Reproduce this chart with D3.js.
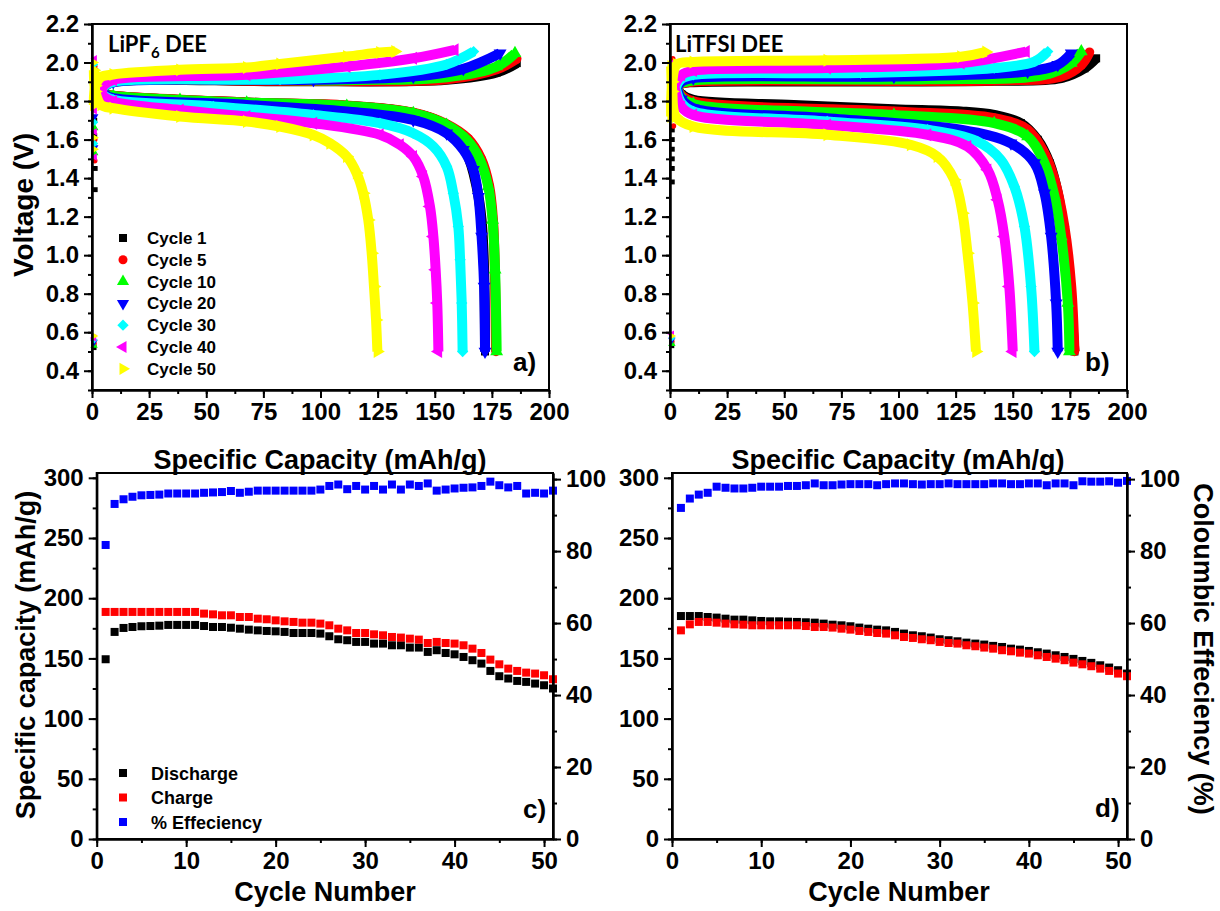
<!DOCTYPE html>
<html lang="en">
<head>
<meta charset="UTF-8">
<script src="https://d3js.org/d3.v7.min.js"></script>
<style>
    body { margin: 0; background: #fff; }
    svg text { font-family: "Liberation Sans", Arial, sans-serif; font-weight: bold; fill: #000; }
    .axis .tick text { font-size: 24px; }
    .label-cap { font-family: Lato, "Open Sans", sans-serif !important; }
</style>
</head>
<body>
<svg id="fig" width="1220" height="911"></svg>
<script>
// ---- voltage profiles (capacity mAh/g, voltage V), one list per cycle ----
var cycles = ["Cycle 1", "Cycle 5", "Cycle 10", "Cycle 20", "Cycle 30", "Cycle 40", "Cycle 50"];

var chargeA = [
    [[3.5,1.85],[5,1.875],[9.3,1.900],[82.3,1.903],[155.2,1.910],[177.1,1.948],[185.9,1.997]],
    [[3.5,1.85],[5,1.875],[9.3,1.900],[82.3,1.905],[155.2,1.913],[177.1,1.965],[185.9,2.019]],
    [[3.5,1.85],[5,1.874],[9.3,1.898],[111.5,1.908],[155.2,1.924],[177.1,1.979],[185.1,2.048]],
    [[3.5,1.85],[5,1.874],[9.3,1.898],[96.9,1.910],[140.6,1.927],[162.5,1.967],[178.6,2.048]],
    [[3.5,1.85],[5,1.875],[9.3,1.900],[82.3,1.912],[126,1.936],[155.2,1.990],[167,2.057]],
    [[3.5,1.85],[5,1.880],[9.3,1.910],[67.7,1.936],[111.5,1.979],[140.6,2.022],[158.8,2.066]],
    [[0.8,1.78],[1.5,1.88],[4,1.925],[9.3,1.938],[38.5,1.962],[67.7,1.974],[82.3,1.993],[111.5,2.031],[126,2.052],[132.6,2.057]]
];
var dischargeA = [
    [[3.5,1.85],[5,1.838],[9.3,1.827],[67.7,1.792],[111.5,1.775],[140.6,1.737],[155.2,1.670],[164,1.529],[168.3,1.356],[170.5,1.183],[171.6,0.924],[172,0.5]],
    [[3.5,1.85],[5,1.838],[9.3,1.828],[67.7,1.793],[111.5,1.777],[140.6,1.740],[155.2,1.680],[164.5,1.605],[170.3,1.500],[173.8,1.360],[175.5,1.180],[176.3,0.920],[176.8,0.5]],
    [[3.5,1.85],[5,1.838],[9.3,1.827],[38.5,1.806],[67.7,1.792],[111.5,1.775],[140.6,1.737],[155.2,1.676],[164.0,1.599],[169.8,1.495],[173.4,1.356],[175.3,1.183],[176.4,0.924],[177.1,0.5]],
    [[3.5,1.85],[5,1.835],[9.3,1.815],[67.7,1.780],[111.5,1.746],[140.6,1.702],[155.2,1.633],[162.5,1.547],[166.9,1.443],[169.1,1.304],[170.5,1.097],[171.6,0.837],[172.0,0.5]],
    [[3.5,1.85],[5,1.830],[9.3,1.806],[53.1,1.772],[96.9,1.728],[126.0,1.685],[140.6,1.633],[149.4,1.564],[155.2,1.460],[158.1,1.322],[160.3,1.149],[161.1,0.976],[161.8,0.751],[162.2,0.5]],
    [[3.5,1.85],[5,1.825],[9.3,1.798],[38.5,1.754],[67.7,1.720],[96.9,1.685],[126.0,1.625],[134.8,1.573],[140.6,1.512],[145.0,1.408],[147.9,1.253],[149.4,1.097],[150.4,0.924],[151.1,0.751],[151.6,0.5]],
    [[0.8,1.96],[1.5,1.85],[4,1.78],[9.3,1.763],[38.5,1.720],[67.7,1.694],[82.3,1.668],[96.9,1.624],[104.2,1.581],[111.5,1.512],[115.8,1.426],[118.7,1.322],[120.9,1.183],[122.4,1.010],[123.4,0.837],[124.3,0.664],[124.9,0.5]]
];
var restA = [
    [[1.2,1.70],[1.2,1.62],[1.4,1.45],[1.4,1.34],[0.9,0.52]],
    [[1.2,1.98],[1.2,1.87],[1.2,1.60],[1.2,1.49],[0.9,0.54]],
    [[1.2,1.93],[1.2,1.78],[1.2,1.66],[1.2,1.53],[0.9,0.53]],
    [[1.2,1.96],[1.2,1.84],[1.2,1.72],[1.2,1.56],[0.9,0.55]],
    [[1.2,1.99],[1.2,1.81],[1.2,1.69],[1.2,1.58],[0.9,0.56]],
    [[1.2,2.02],[1.2,1.75],[1.2,1.64],[1.2,1.51],[0.9,0.57]],
    [[1.2,2.00],[1.2,1.61],[1.2,1.55],[0.9,0.58]]
];

var chargeB = [
    [[3,1.87],[5,1.89],[10.2,1.898],[68.8,1.901],[141.9,1.905],[171.2,1.919],[181.4,1.970],[186.5,2.022]],
    [[3,1.87],[5,1.89],[10.2,1.901],[141.9,1.907],[171.2,1.927],[180.0,1.988],[183.6,2.054]],
    [[3,1.87],[5,1.893],[10.2,1.907],[112.7,1.913],[163.9,1.936],[175.6,1.997],[180.0,2.057]],
    [[3,1.87],[5,1.90],[10.2,1.919],[98.0,1.927],[156.5,1.953],[169.7,1.988],[175.6,2.048]],
    [[2.5,1.87],[5,1.915],[10.2,1.936],[83.4,1.945],[141.9,1.971],[159.5,2.005],[165.3,2.057]],
    [[2,1.88],[5,1.935],[10.2,1.958],[68.8,1.971],[127.3,1.997],[155.8,2.057]],
    [[0.5,1.72],[1,1.90],[3,1.99],[10.2,2.003],[68.8,2.012],[127.3,2.030],[138.3,2.055]]
];
var dischargeB = [
    [[3,1.87],[5,1.835],[10.2,1.806],[54.1,1.780],[98.0,1.758],[127.3,1.746],[141.9,1.728],[153.6,1.685],[160.9,1.599],[166.1,1.478],[169.7,1.322],[172.6,1.097],[174.8,0.837],[177.0,0.5]],
    [[3,1.87],[5,1.83],[10.2,1.798],[98.0,1.746],[141.9,1.711],[156.5,1.651],[163.9,1.529],[168.3,1.391],[172.6,1.149],[175.6,0.837],[177.0,0.5]],
    [[3,1.87],[5,1.82],[10.2,1.785],[98.0,1.728],[141.9,1.685],[156.5,1.616],[163.9,1.478],[168.3,1.304],[171.2,1.097],[174.1,0.751],[174.8,0.5]],
    [[3,1.87],[5,1.81],[10.2,1.763],[68.8,1.711],[127.3,1.651],[149.2,1.581],[159.5,1.478],[163.9,1.322],[166.8,1.097],[169.0,0.751],[169.7,0.5]],
    [[2.5,1.87],[5,1.79],[10.2,1.746],[68.8,1.694],[112.7,1.651],[134.6,1.590],[144.8,1.495],[150.7,1.356],[155.1,1.149],[158.0,0.837],[159.5,0.5]],
    [[2,1.87],[5,1.77],[10.2,1.728],[68.8,1.676],[112.7,1.625],[130.2,1.564],[139.0,1.443],[143.4,1.287],[146.3,1.097],[148.5,0.837],[150.0,0.5]],
    [[0.5,1.98],[1,1.85],[2.5,1.72],[10.2,1.668],[68.8,1.625],[105.3,1.573],[117.0,1.512],[124.4,1.391],[128.0,1.218],[130.2,1.010],[132.4,0.751],[133.9,0.5]]
];
var restB = [
    [[1,1.65],[1,1.60],[1,1.55],[1,1.50],[1,1.45],[1,1.38],[0.8,0.53]],
    [[1.2,2.02],[1.5,1.67],[0.8,0.55]],
    [[1.2,1.98],[0.8,0.54]],
    [[1.2,1.99],[0.8,0.56]],
    [[1.2,1.97],[0.8,0.57]],
    [[1.2,2.00],[0.8,0.59]],
    [[1.2,1.95],[0.8,0.58]]
];

// ---- cycling (cycle 1..51) ----
var cycleNum = d3.range(1, 52);
var dischargeC = [149.3,172.0,175.3,176.1,176.7,176.9,177.2,177.8,177.8,177.8,177.8,176.9,176.1,176.1,175.5,174.7,173.9,173.3,172.8,172.5,
    172.0,171.1,171.1,171.1,170.6,168.4,165.9,165.1,163.7,163.7,162.3,162.3,160.9,160.9,159.0,159.0,155.4,156.8,154.5,153.4,
    151.2,148.5,145.7,139.6,135.2,133.3,131.3,130.5,129.1,127.7,125.0];
var chargeC = [188.6,188.6,188.6,188.6,188.6,188.6,188.6,188.6,188.6,188.6,188.6,187.2,186.6,185.8,185.8,184.4,184.4,183.0,182.5,181.6,
    180.8,180.3,179.7,179.7,178.9,177.5,174.7,173.3,171.1,171.1,170.0,169.2,167.8,167.3,166.4,165.6,162.8,163.7,162.8,162.3,
    160.9,158.1,154.5,149.0,145.1,141.5,139.6,138.2,137.4,136.0,132.7];
var effC = [81.7,93.1,94.4,95.1,95.5,95.6,95.7,96.0,96.0,96.0,96.0,96.2,96.3,96.4,96.7,96.2,96.5,96.8,96.8,96.8,
    96.8,96.8,96.8,96.8,97.1,98.1,98.5,97.2,98.1,97.1,98.1,97.1,98.5,97.1,98.5,98.1,98.8,96.8,97.1,97.4,
    97.6,97.7,98.1,99.3,98.3,97.7,98.1,96.0,96.2,96.0,96.8];

var dischargeD = [185.2,185.2,185.2,184.4,183.9,183.0,182.2,182.2,181.6,181.1,180.8,180.8,180.5,180.3,180.0,179.7,178.9,178.0,177.5,176.7,
    175.6,174.7,173.9,173.3,172.0,170.6,169.2,168.4,167.3,165.9,165.1,164.2,163.1,162.3,161.5,160.4,159.5,158.1,157.3,156.2,
    155.1,154.0,152.6,151.2,149.6,147.9,146.3,144.3,142.4,140.2,137.4];
var chargeD = [173.3,178.3,180.3,180.3,179.7,178.9,178.3,178.0,177.5,177.5,177.5,177.5,177.5,177.5,176.9,176.1,176.1,175.6,174.7,173.9,
    172.8,172.0,171.1,170.6,169.2,167.8,167.0,165.9,165.1,163.7,162.8,162.3,160.9,160.1,159.0,158.1,156.8,155.9,154.8,154.0,
    152.6,151.2,149.8,148.5,146.5,145.1,143.5,141.5,139.6,137.4,135.2];
var effD = [92.0,94.6,95.7,96.2,97.9,97.6,97.4,97.4,97.6,97.9,97.9,97.9,98.1,98.1,98.3,98.8,98.3,98.3,98.5,98.6,
    98.6,98.6,98.3,98.6,98.8,98.8,98.6,98.5,98.6,98.6,98.8,98.6,98.6,98.6,98.6,98.8,98.8,98.6,98.6,98.8,
    98.8,98.3,98.8,98.8,98.3,99.4,99.3,99.3,99.4,99.0,99.5];

var cycLegend = ["Discharge", "Charge", "% Effeciency"];

// ---- styles ----
var colors = ["#000000", "#ff0000", "#00ff00", "#0000ff", "#00ffff", "#ff00ff", "#ffff00"];
var shapes = [d3.symbolSquare, d3.symbolCircle, d3.symbolTriangle, d3.symbolTriangle, d3.symbolSquare, d3.symbolTriangle, d3.symbolTriangle];
var rotations = [0, 0, 0, 180, 45, -90, 90];
var sizes = [64, 70, 72, 72, 64, 72, 72];

var svg = d3.select("#fig");

function addAxis(g, axisFn, scale, major, minor, fmt, transform) {
    var m = g.append("g").attr("class", "axis minor").attr("transform", transform)
        .call(axisFn(scale).tickValues(minor).tickSize(4).tickSizeOuter(0).tickFormat(""));
    var a = g.append("g").attr("class", "axis").attr("transform", transform)
        .call(axisFn(scale).tickValues(major).tickSize(8).tickSizeOuter(0).tickPadding(5).tickFormat(fmt));
    [m, a].forEach(function(s) {
        s.attr("font-size", null).attr("font-family", null);
        s.select(".domain").attr("stroke-width", 2);
        s.selectAll(".tick line").attr("stroke-width", 2);
    });
    return a;
}

function frame(g, x, y) {
    g.append("rect")
        .attr("x", x.range()[0]).attr("y", y.range()[1])
        .attr("width", x.range()[1] - x.range()[0]).attr("height", y.range()[0] - y.range()[1])
        .attr("fill", "none").attr("stroke", "#000").attr("stroke-width", 2);
}

function symbolPath(i, size) {
    return d3.symbol().type(shapes[i]).size(size)();
}

function voltagePanel(x, charge, discharge, rest) {
    var y = d3.scaleLinear().domain([0.3, 2.2]).range([390, 24]);
    var g = svg.append("g");
    var line = d3.line().x(function(d) { return x(d[0]); }).y(function(d) { return y(d[1]); })
        .curve(d3.curveCatmullRom.alpha(0.5));

    cycles.forEach(function(c, i) {
        [charge[i], discharge[i]].forEach(function(pts) {
            g.append("path").attr("d", line(pts))
                .attr("fill", "none").attr("stroke", colors[i])
                .attr("stroke-width", 10).attr("stroke-linejoin", "round");
            g.selectAll(null).data(pts).enter().append("path")
                .attr("d", symbolPath(i, sizes[i]))
                .attr("transform", function(d) { return "translate(" + x(d[0]) + "," + y(d[1]) + ") rotate(" + rotations[i] + ")"; })
                .attr("fill", colors[i]);
        });
        g.selectAll(null).data(rest[i]).enter().append("path")
            .attr("d", symbolPath(i, 24))
            .attr("transform", function(d) { return "translate(" + x(d[0]) + "," + y(d[1]) + ") rotate(" + rotations[i] + ")"; })
            .attr("fill", colors[i]);
    });

    frame(g, x, y);
    addAxis(g, d3.axisBottom, x, d3.range(0, 201, 25), d3.range(0, 201, 12.5), d3.format("d"), "translate(0,390)");
    addAxis(g, d3.axisLeft, y, d3.range(4, 23, 2).map(function(v) { return v / 10; }),
        d3.range(3, 23).map(function(v) { return v / 10; }), d3.format(".1f"), "translate(" + x.range()[0] + ",0)");
    return g;
}

function cyclePanel(x, dis, chg, eff) {
    var y = d3.scaleLinear().domain([0, 304]).range([839, 473]);
    var yR = d3.scaleLinear().domain([0, 101.7]).range([839, 473]);
    var g = svg.append("g");
    var s = 8;
    [[dis, y, "#000000"], [chg, y, "#ff0000"], [eff, yR, "#0000ff"]].forEach(function(set) {
        g.selectAll(null).data(set[0]).enter().append("rect")
            .attr("x", function(d, i) { return x(cycleNum[i]) - s / 2; })
            .attr("y", function(d) { return set[1](d) - s / 2; })
            .attr("width", s).attr("height", s)
            .attr("fill", set[2]);
    });
    frame(g, x, y);
    addAxis(g, d3.axisBottom, x, d3.range(0, 51, 10), d3.range(0, 51, 5), d3.format("d"), "translate(0,839)");
    addAxis(g, d3.axisLeft, y, d3.range(0, 301, 50), d3.range(0, 301, 25), d3.format("d"), "translate(" + x.range()[0] + ",0)");
    addAxis(g, d3.axisRight, yR, d3.range(0, 101, 20), d3.range(0, 101, 10), d3.format("d"), "translate(" + x.range()[1] + ",0)");
    return g;
}

var xA = d3.scaleLinear().domain([0, 200]).range([92, 549]);
var xB = d3.scaleLinear().domain([0, 200]).range([670, 1127]);
var xC = d3.scaleLinear().domain([0, 51]).range([96.7, 553]);
var xD = d3.scaleLinear().domain([0, 51]).range([672, 1127]);

voltagePanel(xA, chargeA, dischargeA, restA);
voltagePanel(xB, chargeB, dischargeB, restB);
cyclePanel(xC, dischargeC, chargeC, effC);
cyclePanel(xD, dischargeD, chargeD, effD);

// legend (a)
var leg = svg.append("g");
cycles.forEach(function(c, i) {
    var ly = 238 + i * 21.8;
    leg.append("path").attr("d", symbolPath(i, 64))
        .attr("transform", "translate(123," + ly + ") rotate(" + rotations[i] + ")")
        .attr("fill", colors[i]);
    leg.append("text").attr("x", 147).attr("y", ly + 6).attr("font-size", 17).text(c);
});

// legend (c)
["#000000", "#ff0000", "#0000ff"].forEach(function(col, i) {
    var ly = 773 + i * 24.5;
    leg.append("rect").attr("x", 119).attr("y", ly - 4).attr("width", 8).attr("height", 8).attr("fill", col);
    leg.append("text").attr("x", 151).attr("y", ly + 6.5).attr("font-size", 18).text(cycLegend[i]);
});

// panel captions
var t1 = svg.append("text").attr("class", "label-cap").attr("x", 108).attr("y", 52).attr("font-size", 22);
t1.append("tspan").text("LiPF");
t1.append("tspan").attr("font-size", 15).attr("dy", 6).text("6");
t1.append("tspan").attr("dy", -6).text(" DEE");
svg.append("text").attr("class", "label-cap").attr("x", 675).attr("y", 52).attr("font-size", 22).text("LiTFSI DEE");

[["a)", 513, 371], ["b)", 1085, 371], ["c)", 523, 818], ["d)", 1095, 817]].forEach(function(l) {
    svg.append("text").attr("x", l[1]).attr("y", l[2]).attr("font-size", 26).text(l[0]);
});

// axis titles
svg.append("text").attr("transform", "translate(33,205) rotate(-90)").attr("text-anchor", "middle")
    .attr("font-size", 28).text("Voltage (V)");
svg.append("text").attr("x", 320).attr("y", 469).attr("text-anchor", "middle").attr("font-size", 27).text("Specific Capacity (mAh/g)");
svg.append("text").attr("x", 898).attr("y", 469).attr("text-anchor", "middle").attr("font-size", 27).text("Specific Capacity (mAh/g)");
svg.append("text").attr("transform", "translate(35,655) rotate(-90)").attr("text-anchor", "middle")
    .attr("font-size", 27).text("Specific capacity (mAh/g)");
svg.append("text").attr("transform", "translate(1194,649) rotate(90)").attr("text-anchor", "middle")
    .attr("font-size", 27).text("Coloumbic Effeciency (%)");
svg.append("text").attr("x", 325).attr("y", 901).attr("text-anchor", "middle").attr("font-size", 27).text("Cycle Number");
svg.append("text").attr("x", 899).attr("y", 901).attr("text-anchor", "middle").attr("font-size", 27).text("Cycle Number");
</script>
</body>
</html>
